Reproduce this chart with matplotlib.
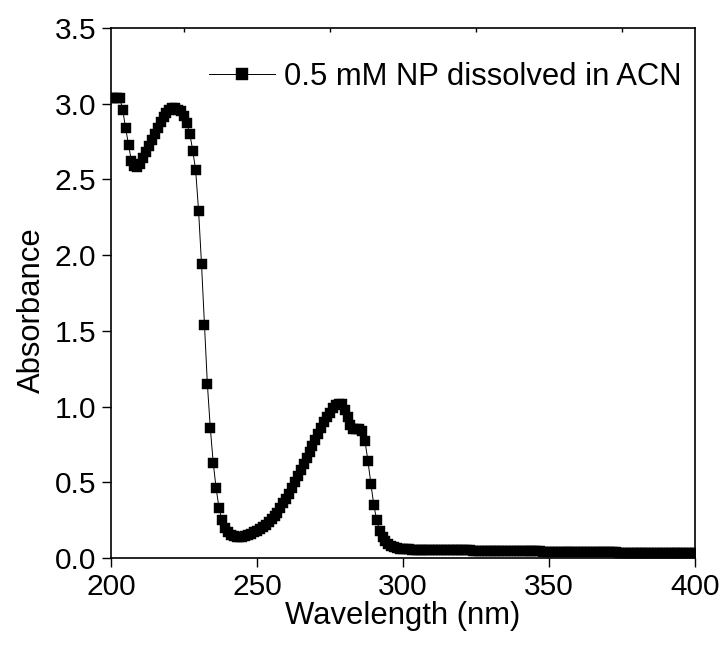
import matplotlib
matplotlib.use("Agg")
import matplotlib.pyplot as plt
from matplotlib.ticker import MultipleLocator

plt.rcParams['font.family'] = ['Liberation Sans', 'DejaVu Sans']

wavelength = list(range(200, 401))
absorbance = [
    3.04, 3.04, 3.04, 3.04, 2.96, 2.84, 2.73, 2.62, 2.59, 2.58,
    2.60, 2.64, 2.68, 2.72, 2.76, 2.80, 2.84, 2.88, 2.91, 2.94,
    2.96, 2.97, 2.97, 2.96, 2.95, 2.92, 2.87, 2.80, 2.69, 2.56,
    2.29, 1.94, 1.54, 1.15, 0.86, 0.63, 0.46, 0.33, 0.25, 0.20,
    0.17, 0.155, 0.145, 0.14, 0.14, 0.14, 0.145, 0.15, 0.16, 0.17,
    0.18, 0.19, 0.205, 0.22, 0.24, 0.26, 0.28, 0.30, 0.33, 0.36,
    0.39, 0.42, 0.46, 0.50, 0.54, 0.58, 0.62, 0.66, 0.70, 0.74,
    0.78, 0.82, 0.86, 0.90, 0.93, 0.96, 0.99, 1.01, 1.02, 1.02,
    0.98, 0.93, 0.88, 0.85, 0.85, 0.85, 0.84, 0.77, 0.64, 0.49,
    0.35, 0.25, 0.18, 0.14, 0.11, 0.09, 0.08, 0.07, 0.065, 0.06,
    0.058,
    0.057, 0.057, 0.056, 0.056, 0.056, 0.055, 0.055, 0.055, 0.054, 0.054,
    0.054, 0.053, 0.053, 0.053, 0.052, 0.052, 0.052, 0.051, 0.051, 0.051,
    0.050, 0.050, 0.050, 0.049, 0.049, 0.049, 0.048, 0.048, 0.048, 0.047,
    0.047, 0.047, 0.046, 0.046, 0.046, 0.046, 0.045, 0.045, 0.045, 0.044,
    0.044, 0.044, 0.044, 0.043, 0.043, 0.043, 0.043, 0.042, 0.042, 0.042,
    0.042, 0.041, 0.041, 0.041, 0.041, 0.040, 0.040, 0.040, 0.040, 0.039,
    0.039, 0.039, 0.039, 0.039, 0.038, 0.038, 0.038, 0.038, 0.037, 0.037,
    0.037, 0.037, 0.037, 0.036, 0.036, 0.036, 0.036, 0.036, 0.035, 0.035,
    0.035, 0.035, 0.035, 0.035, 0.034, 0.034, 0.034, 0.034, 0.034, 0.034,
    0.033, 0.033, 0.033, 0.033, 0.033, 0.033, 0.032, 0.032, 0.032, 0.032,
]
series_label = "0.5 mM NP dissolved in ACN"
x_ticks = [200, 250, 300, 350, 400]
y_ticks = [0.0, 0.5, 1.0, 1.5, 2.0, 2.5, 3.0, 3.5]

fig = plt.figure(figsize=(7.26, 6.46), dpi=100)
ax = fig.add_axes([111 / 726, 88 / 646, 584 / 726, 530 / 646])

ax.plot(wavelength, absorbance, color='black', linewidth=0.7,
        marker='s', markersize=7.5, markerfacecolor='black',
        markeredgecolor='black', markeredgewidth=0.3, label=series_label)

ax.set_xlim(200, 400)
ax.set_ylim(0, 3.5)
ax.set_xticks(x_ticks)
ax.set_xticklabels([str(v) for v in x_ticks])
ax.set_yticks(y_ticks)
ax.set_yticklabels([f"{v:.1f}" for v in y_ticks])
ax.xaxis.set_minor_locator(MultipleLocator(25))

for s in ax.spines.values():
    s.set_linewidth(1.2)

ax.tick_params(axis='both', which='major', direction='out', length=6.5,
               width=1.0, labelsize=21.5, pad=4)
ax.tick_params(axis='x', which='minor', bottom=False, top=True,
               direction='in', length=3, width=1.0)
ax.tick_params(axis='y', which='minor', left=False, right=False)

ax.set_xlabel("Wavelength (nm)", fontsize=22.3, labelpad=0)
ax.set_ylabel("Absorbance", fontsize=22.3, labelpad=6)
ax.yaxis.label.set_y((558 - 310) / 530)

leg = ax.legend(loc='center right', bbox_to_anchor=((682 - 111) / 584, (558 - 76.7) / 530),
                frameon=False, fontsize=22.3, handlelength=2.15, handletextpad=0.3,
                borderaxespad=0, borderpad=0, markerscale=1.2)

fig.savefig("out.png", dpi=100)
